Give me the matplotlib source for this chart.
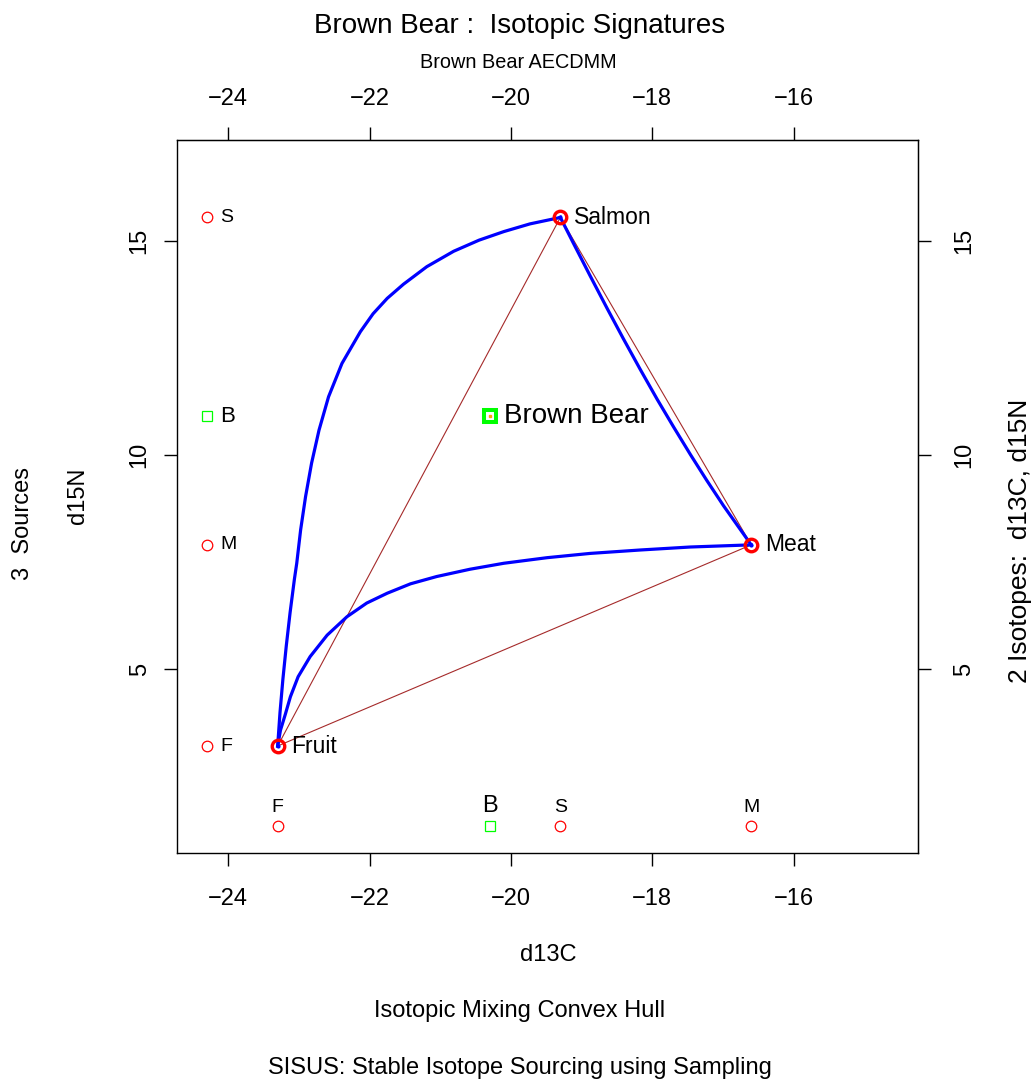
import numpy as np
import matplotlib
matplotlib.use("Agg")
import matplotlib.pyplot as plt

plt.rcParams['font.family'] = ['Liberation Sans', 'DejaVu Sans']

# sources and mixture (d13C, d15N)
src_names = ["Fruit", "Meat", "Salmon"]
src_letters = ["F", "M", "S"]
src_d13C = [-23.3, -16.6, -19.3]
src_d15N = [3.2, 7.9, 15.55]
mix_name = "Brown Bear"
mix_letter = "B"
mix_d13C = -20.3
mix_d15N = 10.9

# concentration-dependent mixing curves
fs_x = [-23.3, -23.267, -23.226, -23.178, -23.124, -23.063, -23.03, -22.975, -22.905, -22.82,
        -22.715, -22.58, -22.39, -22.13, -21.95, -21.75, -21.52, -21.19, -20.81, -20.45,
        -20.10, -19.73, -19.3]
fs_y = [3.2, 3.98, 4.76, 5.54, 6.32, 7.10, 7.47, 8.25, 9.03, 9.81,
        10.58, 11.36, 12.14, 12.88, 13.30, 13.66, 13.99, 14.40, 14.76, 15.02,
        15.22, 15.40, 15.55]
fm_x = [-23.3, -23.26, -23.19, -23.12, -23.01, -22.84, -22.60, -22.32, -22.04, -21.75,
        -21.42, -21.05, -20.58, -20.10, -19.49, -18.88, -18.17, -17.46, -16.6]
fm_y = [3.2, 3.57, 3.95, 4.35, 4.82, 5.29, 5.79, 6.22, 6.54, 6.77,
        6.99, 7.16, 7.33, 7.47, 7.60, 7.70, 7.78, 7.85, 7.9]
sm_x = [-19.3, -19.11, -18.88, -18.64, -18.41, -18.17, -17.93, -17.70, -17.46, -17.23,
        -16.99, -16.75, -16.6]
sm_y = [15.55, 14.93, 14.19, 13.43, 12.72, 12.00, 11.30, 10.66, 10.01, 9.41,
        8.81, 8.25, 7.9]

x_ticks = [-24, -22, -20, -18, -16]
y_ticks = [5, 10, 15]

# marginal strips
strip_x = -24.3
strip_y = 1.33

W, H = 1036, 1082
fig = plt.figure(figsize=(W / 100, H / 100), dpi=100)
ax = fig.add_axes([177.3 / W, 1 - 853 / H, (918 - 177.3) / W, (853 - 140) / H])
ax.set_xlim(-24.72, -14.24)
ax.set_ylim(0.70, 17.36)

red = '#FF0000'
green = '#00FF00'
blue = '#0000FF'
brown = '#A52A2A'

# hull edges
hx = src_d13C + [src_d13C[0]]
hy = src_d15N + [src_d15N[0]]
ax.plot(hx, hy, color=brown, lw=0.8, zorder=2)

# mixing curves
for cx, cy in [(fs_x, fs_y), (fm_x, fm_y), (sm_x, sm_y)]:
    ax.plot(cx, cy, color=blue, lw=2.3, zorder=3, solid_joinstyle='round')

# sources
ax.plot(src_d13C, src_d15N, 'o', ms=9, mfc='none', mec=red, mew=2.4, zorder=4)
ax.plot(src_d13C, src_d15N, 'o', ms=2, color=blue, zorder=5)
for name, x, y in zip(src_names, src_d13C, src_d15N):
    ax.annotate(name, (x, y), xytext=(10, 0), textcoords='offset points',
                va='center', ha='left', fontsize=16.5)

# mixture
ax.plot([mix_d13C], [mix_d15N], 's', ms=8, mfc='none', mec=green, mew=2.9, zorder=4)
ax.plot([mix_d13C], [mix_d15N], 's', ms=1.5, color='#FFA500', zorder=5)
ax.annotate(mix_name, (mix_d13C, mix_d15N), xytext=(10, 0), textcoords='offset points',
            va='center', ha='left', fontsize=20)

# left strip (d15N values)
ax.plot([strip_x] * len(src_d15N), src_d15N, 'o', ms=7.6, mfc='none', mec=red, mew=0.9)
for letter, y in zip(src_letters, src_d15N):
    ax.annotate(letter, (strip_x, y), xytext=(9.5, 0), textcoords='offset points',
                va='center', ha='left', fontsize=14)
ax.plot([strip_x], [mix_d15N], 's', ms=7, mfc='none', mec=green, mew=0.9)
ax.annotate(mix_letter, (strip_x, mix_d15N), xytext=(9.5, 0), textcoords='offset points',
            va='center', ha='left', fontsize=16)

# bottom strip (d13C values)
ax.plot(src_d13C, [strip_y] * len(src_d13C), 'o', ms=7.6, mfc='none', mec=red, mew=0.9)
for letter, x in zip(src_letters, src_d13C):
    ax.annotate(letter, (x, strip_y), xytext=(0, 10), textcoords='offset points',
                va='baseline', ha='center', fontsize=14)
ax.plot([mix_d13C], [strip_y], 's', ms=7, mfc='none', mec=green, mew=0.9)
ax.annotate(mix_letter, (mix_d13C, strip_y), xytext=(0, 10), textcoords='offset points',
            va='baseline', ha='center', fontsize=17)

# axes, ticks on all four sides
for s in ax.spines.values():
    s.set_linewidth(1.0)
ax.set_xticks(x_ticks)
ax.set_yticks(y_ticks)
ax.tick_params(axis='x', direction='out', length=9.5, width=1, labelsize=17, pad=16)
ax.tick_params(axis='y', direction='out', length=9.5, width=1, labelsize=17, pad=9.7,
               labelrotation=90)
for lab in ax.get_yticklabels():
    lab.set_va('center')

top = ax.secondary_xaxis('top')
top.set_xticks(x_ticks)
top.tick_params(direction='out', length=9.5, width=1, labelsize=17, pad=11.9)
right = ax.secondary_yaxis('right')
right.set_yticks(y_ticks)
right.tick_params(direction='out', length=9.5, width=1, labelsize=17, pad=16,
                  labelrotation=90)
for lab in right.get_yticklabels():
    lab.set_va('center')

# margin texts
def ftext(px, py, s, size, rot=0):
    fig.text(px / W, 1 - py / H, s, fontsize=size, rotation=rot, ha='center', va='center')

ftext(520, 26, "Brown Bear :  Isotopic Signatures", 20)
ftext(518, 62, "Brown Bear AECDMM", 14.3)
ftext(548, 955, "d13C", 17)
ftext(520, 1011, "Isotopic Mixing Convex Hull", 17)
ftext(520, 1068, "SISUS: Stable Isotope Sourcing using Sampling", 17)
ftext(78, 496, "d15N", 17, 90)
ftext(23, 524, "3  Sources", 17, 90)
ftext(1020, 541, "2 Isotopes:  d13C, d15N", 19, 90)

fig.savefig("out.png", dpi=100)
